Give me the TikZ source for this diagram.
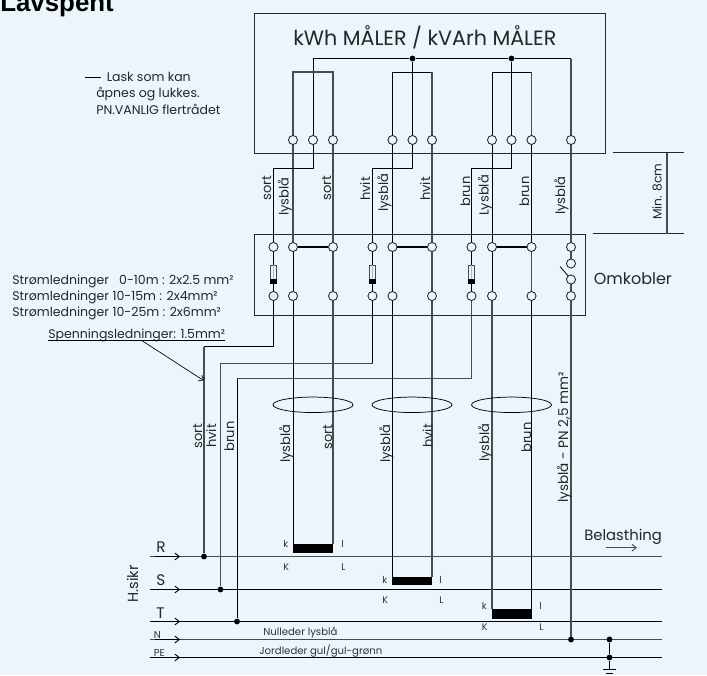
\documentclass[tikz,border=0pt]{standalone}
\usepackage{fontspec}
\usetikzlibrary{arrows.meta,shapes.geometric}
\setmainfont{Poppins}
\newfontfamily\boldsans{Liberation Sans}
\definecolor{bgc}{RGB}{234,245,252}
\definecolor{wire}{RGB}{40,40,40}
\definecolor{wireg}{RGB}{75,75,75}
\tikzset{
 term/.style={circle,draw=wire,fill=bgc,line width=.55pt,inner sep=0pt,minimum size=6.7pt},
 jdot/.style={circle,fill=black,inner sep=0pt,minimum size=4.4pt},
 wirek/.style={draw=black,line width=.6pt},
 wireh/.style={draw=wireg,line width=.8pt},
 boxl/.style={draw=wire,line width=.65pt,fill=none},
 lnk/.style={draw=black,line width=1.05pt},
 txt/.style={inner sep=0pt,anchor=base west,text=black!85,font=\fontsize{9.4}{11}\selectfont},
 big/.style={txt,font=\fontsize{11.5}{13}\selectfont},
 vtxt/.style={inner sep=0pt,anchor=base west,rotate=90,text=black!85,font=\fontsize{9.8}{11}\selectfont},
 small/.style={inner sep=0pt,anchor=base west,text=black!80,font=\fontsize{7.2}{8}\selectfont},
 ct/.style={fill=black,draw=none,minimum width=30pt,inner sep=0pt},
 loop/.style={draw=black,line width=.55pt,ellipse,minimum width=60pt,minimum height=11.6pt,inner sep=0pt},
 flow/.style={-{Straight Barb[length=3.2pt,width=5pt]},line width=.7pt,draw=black},
}
\begin{document}
\begin{tikzpicture}[x=0.75pt,y=-0.75pt]
\useasboundingbox (0,0) rectangle (707,675);
\fill[bgc] (0,0) rectangle (707,675);
% boxes
\node[boxl,minimum width=263.25pt,minimum height=105pt,inner sep=0pt,anchor=north west] (meter) at (253.5,12.5) {};
\node[boxl,minimum width=248.25pt,minimum height=60.75pt,inner sep=0pt,anchor=north west] (omk) at (253.5,233.5) {};
\node[inner sep=0pt,anchor=base west,font=\fontsize{15.5}{17}\selectfont,text=black!85] (title) at (293,45) {kWh MÅLER / kVArh MÅLER};
\begin{scope}
\clip (0,0) rectangle (707,675);
\node[inner sep=0pt,anchor=base west,font=\boldsans\bfseries\fontsize{19.4}{21}\selectfont] (head) at (0,11.7) {Lavspent};
\end{scope}
% terminals
\foreach \n/\x in {a/293,b/313,c/333,d/392.5,e/412.5,f/432,g/492,h/511.5,i/531.5,j/571}{
 \node[term] (m\n) at (\x,140) {};
}
\foreach \n/\x in {a/293,c/333,d/392.5,f/432,g/492,i/531.5,j/571,x/273.5,y/372.5,z/471.5}{
 \node[term] (t\n) at (\x,247) {};
 \node[term] (u\n) at (\x,296) {};
}
\node[term] (s1) at (571,263.5) {};
\node[term] (s2) at (571,279.5) {};
% internal meter bus
\node[jdot] (je) at (412.5,58.5) {};
\node[jdot] (jh) at (511.5,58.5) {};
\coordinate (bl) at (313,58.5);
\coordinate (br) at (571,58.5);
\draw[wirek] (bl)--(je)--(jh)--(br);
\draw[wirek] (bl)--(mb);
\draw[wirek] (je)--(me);
\draw[wirek] (jh)--(mh);
\draw[wireh] (br)--(mj);
\draw[wireh] (ma)|-(mc |- 0,72)--(mc);
\draw[wirek] (md)|-(mf |- 0,72); \draw[wireh] (mf |- 0,72)--(mf);
\draw[wirek] (mg)|-(mi |- 0,72); \draw[wireh] (mi |- 0,72)--(mi);
% meter to switch box
\foreach \n in {a,c,f,j}{\draw[wireh] (m\n)--(t\n);}
\foreach \n in {d,g,i}{\draw[wirek] (m\n)--(t\n);}
\draw[wirek] (mb)|-(tx |- 0,168.5)--(tx);
\draw[wirek] (me)|-(ty |- 0,168.5)--(ty);
\draw[wirek] (mh)|-(tz |- 0,168.5)--(tz);
% links
\foreach \p/\q in {a/c,d/f,g/i}{
 \draw[lnk] (t\p)--(t\q);
 \draw[wireg,line width=1.3pt] (t\q)--(u\q);
}
\foreach \n in {a,d,g}{\draw[wirek] (t\n)--(u\n);}
% fuses
\foreach \n in {x,y,z}{
 \draw[wirek] (t\n)--(u\n);
 \path (t\n)+(0,27) node[draw=wireg,fill=bgc,line width=.5pt,minimum width=4.4pt,minimum height=13.5pt,inner sep=0pt] (f\n) {};
 \path (t\n)+(0,27) node[fill=wireg!40,minimum width=.4pt,minimum height=13pt,inner sep=0pt] {};
 \path (t\n)+(0,34.5) node[fill=black,minimum width=4.6pt,minimum height=3.4pt,inner sep=0pt] {};
}
% switch
\draw[wireh] (tj)--(s1);
\draw[wireh] (s2)--(uj);
\coordinate (sw1) at (560,266.5);
\coordinate (sw2) at (570,278);
\draw[wirek] (sw1)--(sw2);
% phase lines
\coordinate (Rl) at (149.5,556.5); \coordinate (Rr) at (662,556.5);
\coordinate (Sl) at (149.5,589.5); \coordinate (Sr) at (662,589.5);
\coordinate (Tl) at (149.5,621.5); \coordinate (Tr) at (662,621.5);
\coordinate (Nl) at (149.5,639.5); \coordinate (Nr) at (662,639.5);
\coordinate (Pl) at (149.5,657.5); \coordinate (Pr) at (662,657.5);
\draw[wireh] (Rl)--(Rr);
\draw[wirek] (Sl)--(Sr);
\draw[wirek] (Tl)--(Tr);
\draw[wireh] (Nl)--(Nr);
\draw[wirek] (Pl)--(Pr);
\foreach \y/\xs in {556.5/155,589.5/165,621.5/165,639.5/155,657.5/165}{
 \coordinate (as) at (\xs,\y);
 \coordinate (ae) at (180,\y);
 \draw[flow] (as)--(ae);
}
% voltage wires
\node[jdot] (jr) at (204,556.5) {};
\node[jdot] (js) at (220.5,589.5) {};
\node[jdot] (jt) at (237,621.5) {};
\draw[wirek] (ux)|-(jr |- 0,346.5);
\draw[wireh] (jr |- 0,346.5)--(jr);
\draw[wirek] (uy)|-(js |- 0,363.5);
\draw[wireh] (uy |- 0,363.5)--(js |- 0,363.5)--(js);
\draw[wireh] (uz)|-(jt |- 0,378.5);
\draw[wirek] (jt |- 0,378.5)--(jt);
% CTs
\node[ct,minimum height=6.8pt] (ct1) at (313,548.5) {};
\node[ct,minimum height=6.3pt] (ct2) at (412,581) {};
\node[ct,minimum height=7.5pt] (ct3) at (511.5,614) {};
\draw[wirek] (ua)--(ua |- ct1.north);
\draw[wireh] (uc)--(uc |- ct1.north);
\draw[wirek] (ud)--(ud |- ct2.north);
\draw[wireh] (uf)--(uf |- ct2.north);
\draw[wireh] (ug)--(ug |- ct3.north);
\draw[wirek] (ui)--(ui |- ct3.north);
\draw[wireh] (uj)--(uj |- 0,639.5);
% redraw terminals on top of wires
\foreach \n in {a,b,c,d,e,f,g,h,i,j}{\node[term] at (m\n) {};}
\foreach \n in {a,c,d,f,g,i,j,x,y,z}{\node[term] at (t\n) {}; \node[term] at (u\n) {};}
\node[term] at (s1) {}; \node[term] at (s2) {};
% N and ground
\node[jdot] (jn) at (571,639.5) {};
\node[jdot] (jg1) at (609.5,639.5) {};
\node[jdot] (jg2) at (609.5,657.5) {};
\coordinate (gnd) at (609.5,669);
\draw[wirek] (jg1)--(jg2)--(gnd);
\coordinate (ga) at (603,669); \coordinate (gb) at (616,669);
\coordinate (gc) at (606,673); \coordinate (gd) at (613,673);
\draw[wirek] (ga)--(gb);
\draw[wirek] (gc)--(gd);
% ellipses
\node[loop] (l1) at (313,404.8) {};
\node[loop] (l2) at (412,404.8) {};
\node[loop] (l3) at (511.5,404.8) {};
% vertical labels
\foreach \x/\y/\s in {271/201/sort,288.5/216/lysblå,331/201/sort,370/201/hvit,388/212/lysblå,430/201/hvit,470/207/brun,488.7/216/Lysblå,529/207/brun,565/215/lysblå,
 202/449/sort,216/448/hvit,234/452/brun,290/463/lysblå,332/450/sort,390/463/lysblå,432.7/448/hvit,489/462/lysblå,531/453/brun}{
 \node[vtxt] at (\x,\y) {\s};
}
\node[vtxt,font=\fontsize{10.2}{12}\selectfont] at (568,503) {lysblå - PN 2,5 mm²};
\node[vtxt,font=\fontsize{9.2}{11}\selectfont] at (661.7,220) {Min. 8cm};
\node[vtxt,font=\fontsize{11}{12}\selectfont] at (138,603) {H.sikr};
% Min 8cm dimension
\coordinate (d1) at (612.7,152.5); \coordinate (d2) at (684,152.5);
\coordinate (d3) at (592.7,233.5); \coordinate (d4) at (684,233.5);
\coordinate (d5) at (667,152.5); \coordinate (d6) at (667,233.5);
\draw[boxl] (d1)--(d2);
\draw[boxl] (d3)--(d4);
\draw[wireh] (d5)--(d6);
% texts
\node[big,font=\fontsize{12}{14}\selectfont] at (593.5,284) {Omkobler};
\node[txt] at (12,284) {Strømledninger\ \ \ 0-10m : 2x2.5 mm²};
\node[txt] at (12,300.7) {Strømledninger 10-15m : 2x4mm²};
\node[txt] at (12,316.7) {Strømledninger 10-25m : 2x6mm²};
\node[txt] (sp) at (48,338.7) {Spenningsledninger: 1.5mm²};
\coordinate (u1) at (48,340.5); \coordinate (u2) at (225,340.5);
\draw[wirek] (u1)--(u2);
\coordinate (ar1) at (141.7,340.5); \coordinate (ar2) at (204,380.7);
\draw[flow,line width=.5pt] (ar1)--(ar2);
\coordinate (q1) at (198,380.7);
\draw[wireh] (q1)--(ar2);
\coordinate (k1) at (85,77.5); \coordinate (k2) at (101,77.5);
\draw[draw=black,line width=1.1pt] (k1)--(k2);
\node[txt] at (106.5,81.7) {Lask som kan};
\node[txt] at (96,97.7) {åpnes og lukkes.};
\node[txt] at (96,114) {PN.VANLIG flertrådet};
\node[big] at (156,552) {R};
\node[big] at (156,585) {S};
\node[big] at (156,618) {T};
\node[small,font=\fontsize{7.5}{8}\selectfont] at (153.5,638.5) {N};
\node[small,font=\fontsize{7.5}{8}\selectfont] at (153.5,656.5) {PE};
\node[small,font=\fontsize{7.6}{9}\selectfont] at (263,635.7) {Nulleder lysblå};
\node[small,font=\fontsize{7.6}{9}\selectfont] at (259,654) {Jordleder gul/gul-grønn};
\foreach \x/\y/\yy in {283/547.7/570,382/583/603,481.7/609/630.7}{
 \node[small] at (\x,\y) {k};
 \node[small] at (\x,\yy) {K};
}
\foreach \x/\y/\yy in {341/547.7/570,439/583/603,539/609/630.7}{
 \node[small] at (\x,\y) {l};
 \node[small] at (\x,\yy) {L};
}
\node[big,font=\fontsize{11.1}{13}\selectfont] at (584,540) {Belasthing};
\coordinate (b1) at (605.7,547.7); \coordinate (b2) at (637,547.7);
\draw[flow,draw=wireg] (b1)--(b2);
\end{tikzpicture}
\end{document}
